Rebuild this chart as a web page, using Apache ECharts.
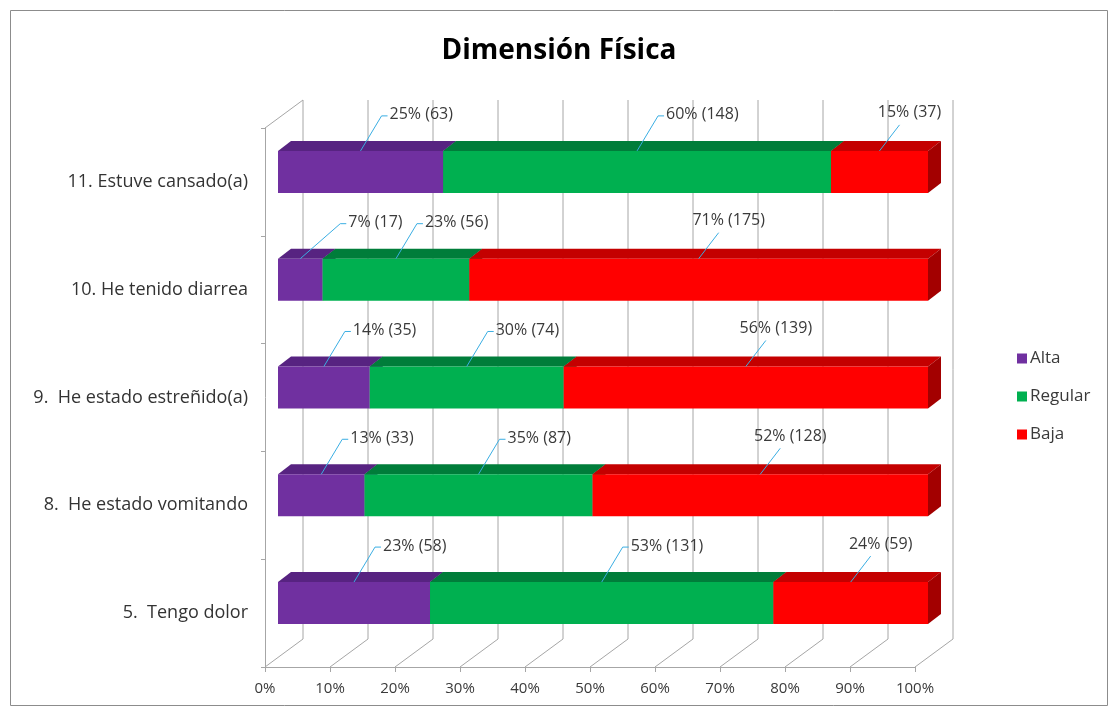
<!DOCTYPE html>
<html>
<head>
<meta charset="utf-8">
<script src="https://cdn.jsdelivr.net/npm/echarts@6/dist/echarts.min.js"></script>
<style>
  html, body { margin: 0; padding: 0; background: #ffffff; }
  #chart { width: 1118px; height: 716px; }
</style>
</head>
<body>
<div id="chart"></div>
<script>
// Survey answers per item (bottom to top), counts of respondents per level
const categories = [
  '5.  Tengo dolor',
  '8.  He estado vomitando',
  '9.  He estado estreñido(a)',
  '10. He tenido diarrea',
  '11. Estuve cansado(a)'
];
const alta    = [58, 33, 35, 17, 63];
const regular = [131, 87, 74, 56, 148];
const baja    = [59, 128, 139, 175, 37];
const seriesNames = ['Alta', 'Regular', 'Baja'];
const xTicks = [0, 10, 20, 30, 40, 50, 60, 70, 80, 90, 100];

// Face colours: front, top, side
const palette = {
  Alta:    { front: '#7030A0', top: '#572381', side: '#4A1D6E' },
  Regular: { front: '#00B050', top: '#007D3A', side: '#006B31' },
  Baja:    { front: '#FF0000', top: '#C40000', side: '#A30000' }
};

// 3D look: depth of the frame and of the bars, in pixels
const FRAME_DX = 38, FRAME_DY = -28;
const BAR_OFF_X = 13, BAR_OFF_Y = -10;
const BAR_DX = 13, BAR_DY = -10;
const LINE_COLOR = '#A6A6A6';
const LEADER_COLOR = '#3AAEE3';
const FONT = '"Open Sans", "Noto Sans", sans-serif';

const totals = categories.map((_, i) => alta[i] + regular[i] + baja[i]);
const levels = [alta, regular, baja];

// Stacked 100% segments: [start%, end%, categoryIndex, count, roundedPct]
function buildSegments(levelIdx) {
  return categories.map((_, i) => {
    let before = 0;
    for (let k = 0; k < levelIdx; k++) before += levels[k][i];
    const v = levels[levelIdx][i];
    const start = before / totals[i] * 100;
    const end = (before + v) / totals[i] * 100;
    return [start, end, i, v, Math.round(v / totals[i] * 100)];
  });
}

function barRenderer(name, isLast) {
  const col = palette[name];
  return function (params, api) {
    const s = api.value(0), e = api.value(1), c = api.value(2);
    const count = api.value(3), pct = api.value(4);
    const p0 = api.coord([s, c]);
    const p1 = api.coord([e, c]);
    const band = api.size([0, 1])[1];
    const h = band * 0.39;
    const x0 = p0[0] + BAR_OFF_X, x1 = p1[0] + BAR_OFF_X;
    const yT = p0[1] + BAR_OFF_Y - h / 2, yB = yT + h;
    const children = [
      { type: 'polygon', shape: { points: [[x0, yT], [x0 + BAR_DX, yT + BAR_DY], [x1 + BAR_DX, yT + BAR_DY], [x1, yT]] },
        style: { fill: col.top } },
      { type: 'polygon', shape: { points: [[x1, yT], [x1 + BAR_DX, yT + BAR_DY], [x1 + BAR_DX, yB + BAR_DY], [x1, yB]] },
        style: { fill: col.side } },
      { type: 'rect', shape: { x: x0, y: yT, width: x1 - x0, height: h },
        style: { fill: col.front } }
    ];
    const mx = (x0 + x1) / 2;
    const text = pct + '% (' + count + ')';
    if (!isLast) {
      // narrow segments get a longer leader so the label clears the axis wall
      const reach = (x1 - x0) < 60 ? 40 : 21;
      children.push({ type: 'polyline', shape: { points: [[mx, yT], [mx + reach, yT - 35], [mx + reach + 6, yT - 35]] },
        style: { stroke: LEADER_COLOR, lineWidth: 1, fill: null } });
      children.push({ type: 'text', style: { text: text, x: mx + reach + 8, y: yT - 36, fill: '#3A3A3A',
        font: '16px ' + FONT, align: 'left', verticalAlign: 'middle' } });
    } else {
      children.push({ type: 'polyline', shape: { points: [[mx, yT], [mx + 20, yT - 26]] },
        style: { stroke: LEADER_COLOR, lineWidth: 1, fill: null } });
      children.push({ type: 'text', style: { text: text, x: mx + 30, y: yT - 38, fill: '#3A3A3A',
        font: '16px ' + FONT, align: 'center', verticalAlign: 'middle' } });
    }
    return { type: 'group', children: children };
  };
}

// Floor diagonals, back-wall gridlines and the left-wall top edge
function frameRenderer(params, api) {
  const cs = params.coordSys;
  const v = api.value(0);
  const x = api.coord([v, 0])[0];
  const yF = cs.y + cs.height;
  const lineStyle = { stroke: LINE_COLOR, lineWidth: 1 };
  const children = [
    { type: 'line', shape: { x1: x, y1: yF, x2: x + FRAME_DX, y2: yF + FRAME_DY }, style: lineStyle },
    { type: 'line', shape: { x1: x + FRAME_DX, y1: yF + FRAME_DY, x2: x + FRAME_DX, y2: cs.y + FRAME_DY }, style: lineStyle }
  ];
  if (v === xTicks[0]) {
    children.push({ type: 'line', shape: { x1: cs.x, y1: cs.y, x2: cs.x + FRAME_DX, y2: cs.y + FRAME_DY }, style: lineStyle });
  }
  return { type: 'group', children: children };
}

const chart = echarts.init(document.getElementById('chart'), null, { renderer: 'canvas' });

const series = [{
  name: 'frame',
  type: 'custom',
  silent: true,
  clip: false,
  z: 1,
  renderItem: frameRenderer,
  encode: { x: 0, y: 1 },
  data: xTicks.map(v => [v, 0])
}];
seriesNames.forEach((name, idx) => {
  series.push({
    name: name,
    type: 'custom',
    clip: false,
    z: 2 + idx,
    itemStyle: { color: palette[name].front },
    renderItem: barRenderer(name, idx === seriesNames.length - 1),
    encode: { x: [0, 1], y: 2 },
    data: buildSegments(idx)
  });
});

chart.setOption({
  backgroundColor: '#ffffff',
  animation: false,
  title: {
    text: 'Dimensión Física',
    left: 'center',
    top: 32,
    textStyle: { fontFamily: FONT, fontSize: 28, fontWeight: 'bold', color: '#000000' }
  },
  legend: {
    data: seriesNames,
    orient: 'vertical',
    left: 1012,
    top: 345,
    icon: 'rect',
    itemWidth: 10,
    itemHeight: 10,
    itemGap: 21,
    textStyle: { fontFamily: FONT, fontSize: 17, color: '#3A3A3A', padding: [0, 0, 0, -2] }
  },
  grid: { left: 265, top: 128, width: 650, height: 539, containLabel: false },
  xAxis: {
    type: 'value',
    min: 0,
    max: 100,
    interval: 10,
    axisLine: { show: true, lineStyle: { color: LINE_COLOR } },
    axisTick: { show: true, length: 5, lineStyle: { color: LINE_COLOR } },
    splitLine: { show: false },
    axisLabel: { formatter: '{value}%', margin: 14, fontFamily: FONT, fontSize: 15, color: '#3A3A3A' }
  },
  yAxis: {
    type: 'category',
    data: categories,
    axisLine: { show: true, lineStyle: { color: LINE_COLOR } },
    axisTick: { show: true, length: 4, lineStyle: { color: LINE_COLOR } },
    splitLine: { show: false },
    axisLabel: { margin: 17, fontFamily: FONT, fontSize: 18, color: '#333333' }
  },
  graphic: [{
    type: 'rect',
    silent: true,
    shape: { x: 10.5, y: 10.5, width: 1097, height: 695 },
    style: { fill: null, stroke: '#8C8C8C', lineWidth: 1 }
  }],
  series: series
});
</script>
</body>
</html>
